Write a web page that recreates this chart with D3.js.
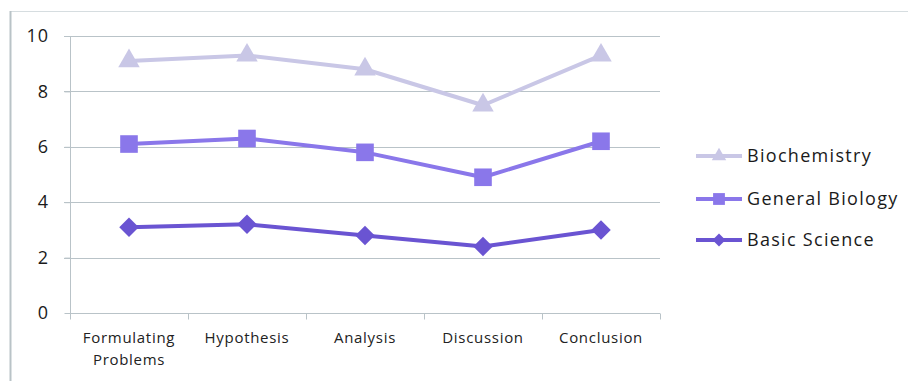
<!DOCTYPE html>
<html><head><meta charset="utf-8">
<script src="https://cdn.jsdelivr.net/npm/d3@7"></script>
<style>body{margin:0;background:#fff}svg{display:block}</style>
</head><body><svg id="c" width="908" height="381"></svg>
<script>
const categories = ["Formulating Problems","Hypothesis","Analysis","Discussion","Conclusion"];
const biochemistry = [9.1, 9.3, 8.8, 7.5, 9.3];
const generalBiology = [6.1, 6.3, 5.8, 4.9, 6.2];
const basicScience = [3.1, 3.2, 2.8, 2.4, 3.0];
const yTicks = [0, 2, 4, 6, 8, 10];
const seriesNames = ["Biochemistry", "General Biology", "Basic Science"];

const series = [
  {name: seriesNames[0], values: biochemistry, color: "#c9c7e6", symbol: d3.symbolTriangle, size: 200, rot: 0},
  {name: seriesNames[1], values: generalBiology, color: "#8a77ea", symbol: d3.symbolSquare, size: 310, rot: 0},
  {name: seriesNames[2], values: basicScience, color: "#6a54d2", symbol: d3.symbolSquare, size: 190, rot: 45}
];

const svg = d3.select("#c");
const font = "'Open Sans', sans-serif";

// outer frame
svg.append("line").attr("x1",10.5).attr("x2",908).attr("y1",11.5).attr("y2",11.5).attr("stroke","#d6dde0").attr("stroke-width",1);
svg.append("line").attr("x1",10.5).attr("x2",10.5).attr("y1",11).attr("y2",381).attr("stroke","#b9c3c7").attr("stroke-width",2);

const x = d3.scaleBand().domain(categories).range([70, 660]);
const y = d3.scaleLinear().domain([0, 10]).range([313, 36]);

// grid
svg.append("g").selectAll("line").data(yTicks.filter(d=>d>0)).join("line")
  .attr("x1",64).attr("x2",660).attr("y1",d=>Math.round(y(d))+0.5).attr("y2",d=>Math.round(y(d))+0.5)
  .attr("stroke","#b9c3c8").attr("stroke-width",1);

// y axis
const ya = svg.append("g").attr("transform","translate(70,0)")
  .call(d3.axisLeft(y).tickValues(yTicks).tickSize(6).tickPadding(15).tickFormat(d3.format("d")));
ya.select(".domain").attr("stroke","#b9c3c8").attr("d","M0.5,36V313");
ya.selectAll(".tick line").attr("stroke","#b9c3c8").attr("transform","translate(0.5,0)");
ya.selectAll("text").attr("font-family",font).attr("font-size",18).attr("fill","#1a1a1a").attr("letter-spacing",1);

// x axis
const xa = svg.append("g").attr("transform","translate(0,313.5)")
  .call(d3.axisBottom(x).tickSize(0).tickPadding(19));
xa.select(".domain").attr("stroke","#b9c3c8").attr("d","M70,0H660");
const edges = categories.map(c=>x(c)).concat([660]);
xa.selectAll(".edge").data(edges).join("line").attr("class","edge")
  .attr("x1",d=>d+0.5).attr("x2",d=>d+0.5).attr("y1",0).attr("y2",6).attr("stroke","#b9c3c8");
xa.selectAll(".tick text").attr("font-family",font).attr("font-size",15).attr("fill","#222").attr("letter-spacing",0.7)
  .each(function(d){
    const t = d3.select(this); const words = d.split(" ");
    if (words.length > 1) {
      t.text(null);
      words.forEach((w,i)=>t.append("tspan").attr("x",0).attr("dy", i===0 ? "0.71em" : "1.45em").text(w));
    }
  });

// lines + markers
const cx = c => x(c) + x.bandwidth()/2;
const line = d3.line().x((d,i)=>cx(categories[i])).y(d=>y(d));
series.forEach(s=>{
  svg.append("path").datum(s.values).attr("d",line).attr("fill","none")
    .attr("stroke",s.color).attr("stroke-width",4).attr("stroke-linejoin","round");
  svg.append("g").selectAll("path").data(s.values).join("path")
    .attr("transform",(d,i)=>`translate(${cx(categories[i])},${y(d)}) rotate(${s.rot})`)
    .attr("d",d3.symbol().type(s.symbol).size(s.size)).attr("fill",s.color);
});

// legend
const lg = svg.append("g");
const legendY = [156, 199, 240];
series.forEach((s,i)=>{
  const g = lg.append("g").attr("transform",`translate(0,${legendY[i]})`);
  g.append("line").attr("x1",696).attr("x2",742).attr("y1",0).attr("y2",0).attr("stroke",s.color).attr("stroke-width",4);
  g.append("path").attr("transform",`translate(719,0) rotate(${s.rot})`).attr("d",d3.symbol().type(s.symbol).size(s.size*0.45)).attr("fill",s.color);
  g.append("text").attr("x",747).attr("y",0).attr("dy","0.35em").attr("font-family",font).attr("font-size",18).attr("letter-spacing",1.3).attr("fill","#1a1a1a").text(s.name);
});
</script></body></html>
